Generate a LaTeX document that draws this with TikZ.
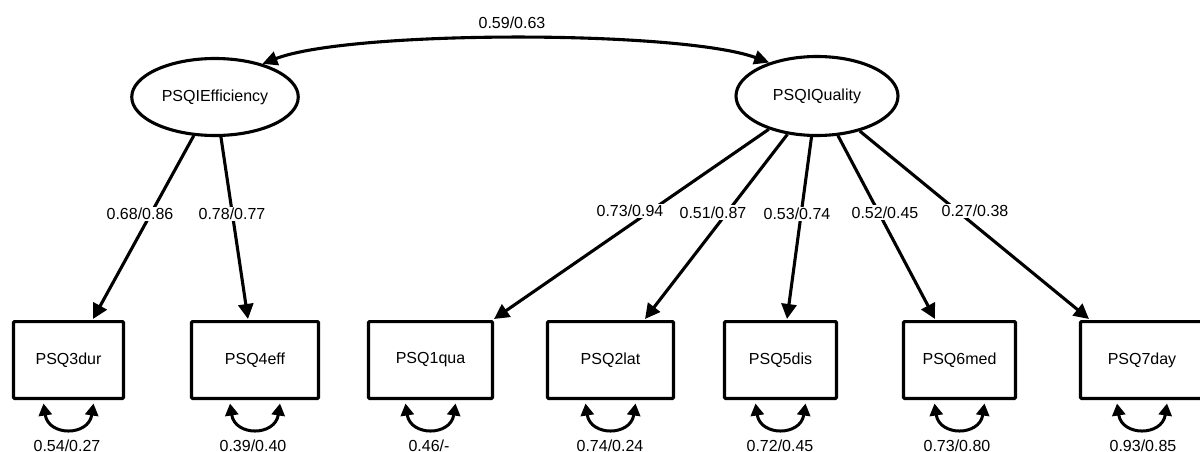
\documentclass[tikz,border=0pt]{standalone}
\usepackage{fontspec}
\setmainfont{Liberation Sans}
\usetikzlibrary{arrows.meta,shapes.geometric,calc}
\begin{document}
\begin{tikzpicture}[x=1pt,y=-1pt,
  txt/.style={font=\fontsize{16}{19}\selectfont},
  latent/.style={txt,draw,ellipse,line width=3.1pt,inner sep=0pt,minimum width=167pt,minimum height=78pt},
  manifest/.style={txt,draw,rectangle,line width=3.1pt,inner sep=0pt,minimum height=76.9pt,rounded corners=1pt},
  load/.style={line width=3.1pt,-{Triangle[length=15pt,width=15pt]}},
  cov/.style={line width=3.1pt,{Triangle[length=15pt,width=14pt]}-{Triangle[length=15pt,width=14pt]}},
  resid/.style={line width=3pt,{Triangle[length=12pt,width=13pt]}-{Triangle[length=12pt,width=13pt]}},
  lbl/.style={txt,fill=white,inner sep=1.5pt},
  rlbl/.style={txt,anchor=base,inner sep=0pt},
]
\fill[white] (0,0) rectangle (1200,452);
\useasboundingbox (0,0) rectangle (1200,452);

% latent variables
\node[latent,minimum width=166.5pt,minimum height=77pt] (E) at (215,97) {PSQIEfficiency};
\node[latent,minimum width=162pt,minimum height=79pt] (Q) at (817,96) {PSQIQuality};

% observed variables
\node[manifest,minimum width=110pt] (b3) at (68.5,360) {PSQ3dur};
\node[manifest,minimum width=127pt] (b4) at (255,360) {PSQ4eff};
\node[manifest,minimum width=124pt] (b1) at (430.5,360) {PSQ1qua};
\node[manifest,minimum width=126pt] (b2) at (610.5,360) {PSQ2lat};
\node[manifest,minimum width=112pt] (b5) at (780.5,360) {PSQ5dis};
\node[manifest,minimum width=112pt] (b6) at (959.5,360) {PSQ6med};
\node[manifest,minimum width=123pt] (b7) at (1142,360) {PSQ7day};

% arrow targets on the box tops
\coordinate (t3) at (93,319);
\coordinate (t4) at (248,319);
\coordinate (t1) at (494,319);
\coordinate (t2) at (645,319);
\coordinate (t5) at (787,319);
\coordinate (t6) at (935,319);
\coordinate (t7) at (1089,319);

% covariance between latents
\draw[cov] (E.35) .. controls (350,30) and (680,30) .. (Q.145);
\node[lbl] (cl) at (512,23) {0.59/0.63};

% loadings
\draw[load] (E) -- (t3);
\draw[load] (E) -- (t4);
\draw[load] (Q) -- (t1);
\draw[load] (Q) -- (t2);
\draw[load] (Q) -- (t5);
\draw[load] (Q) -- (t6);
\draw[load] (Q) -- (t7);

\node[lbl] (l3) at (140,214) {0.68/0.86};
\node[lbl] (l4) at (232,214) {0.78/0.77};
\node[lbl] (l1) at (630,211) {0.73/0.94};
\node[lbl] (l2) at (713,212.5) {0.51/0.87};
\node[lbl] (l5) at (797,214) {0.53/0.74};
\node[lbl] (l6) at (885,212.5) {0.52/0.45};
\node[lbl] (l7) at (975,211) {0.27/0.38};

% residual variances
\foreach \b in {b3,b4,b1,b2,b5,b6,b7}{
  \draw[resid] ([xshift=-25pt,yshift=-3.5pt]\b.south) .. controls +(5,33) and +(-5,33) .. ([xshift=25pt,yshift=-3.5pt]\b.south);
}
\node[rlbl] (r3) at (67,451) {0.54/0.27};
\node[rlbl] (r4) at (253,451) {0.39/0.40};
\node[rlbl] (r1) at (429,451) {0.46/-};
\node[rlbl] (r2) at (610,451) {0.74/0.24};
\node[rlbl] (r5) at (780,451) {0.72/0.45};
\node[rlbl] (r6) at (957,451) {0.73/0.80};
\node[rlbl] (r7) at (1143,451) {0.93/0.85};
\end{tikzpicture}
\end{document}
